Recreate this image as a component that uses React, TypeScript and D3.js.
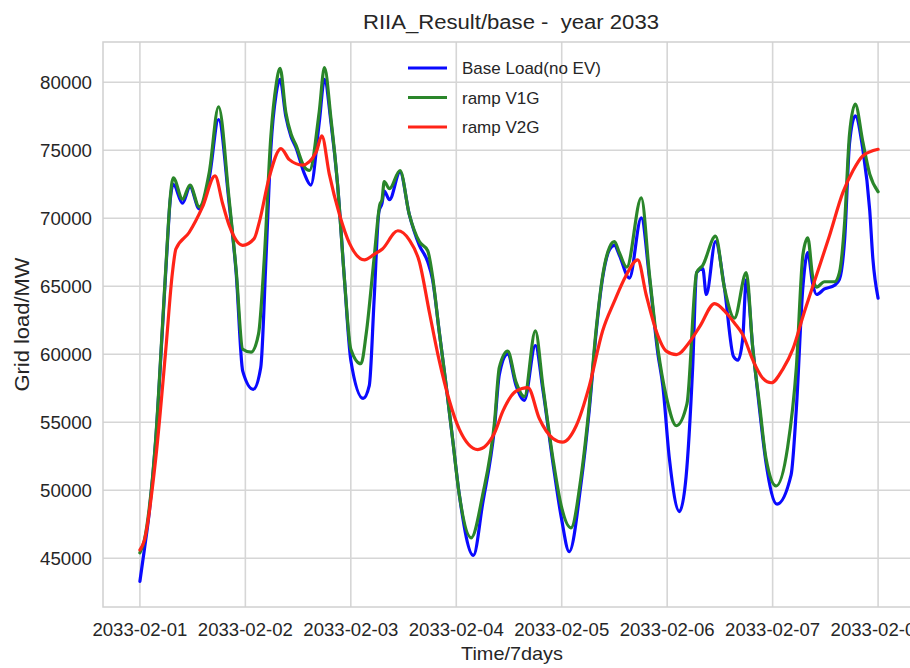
import React from "react";
import * as d3 from "d3";

// hours since 2033-02-01 00:00 and MW readings
const baseHours = [0,1,2.1,3.6,5.1,6.3,6.8,7.6,9.7,11.4,13.5,15.8,17.9,20.3,21.9,23.4,25.8,27.5,28.7,29.8,31.0,31.9,33.2,34.4,35.5,37.4,38.9,40.8,42.0,43.5,45.0,46.5,48.0,50.8,52.2,53.3,54.4,55.1,55.6,56.8,59.2,61.3,63.6,65.5,66.6,68.1,69.7,71.2,72.7,75.9,78.0,80.7,81.8,83.7,85.6,87.5,90.0,91.7,94.0,95.9,97.7,100.4,102.3,103.8,105.3,106.9,108.0,109.1,111.4,114.1,116.0,117.9,119.0,120.5,122.8,124.3,125.8,126.7,128.1,128.9,131.0,133.0,135.1,136.1,137.2,138.0,139.5,141.0,142.5,145.0,148.2,149.4,150.9,152.0,153.1,154.0,155.8,158.1,159.2,160.4,161.5,162.8,164.5,166.1,166.8,168.0];
const baseLoad = [43300,45600,48300,53660,61700,68410,70960,72500,71100,72300,70700,73000,77260,71100,66000,58760,57420,59030,67070,75120,79140,80210,77500,76000,75200,73300,72440,77000,80210,77000,72440,65730,59560,56750,57690,64000,70500,71100,72000,71360,73400,70290,68000,66800,65500,61710,57690,53660,49640,45200,49000,54600,58500,60000,57700,56610,60640,57400,52000,48000,45480,50500,56000,61500,65600,67700,68000,67300,65600,70020,65500,60000,57690,52320,48430,50980,59030,66000,66300,64390,68280,64930,59830,59560,61170,65460,60370,56000,52000,48970,51120,56000,65000,67480,65200,64390,64800,65070,65500,68500,75500,77530,75120,70560,67070,64120];

const v1gHours = [0,1,2.1,3.6,5.1,6.3,6.8,7.6,9.7,11.4,13.5,15.8,17.9,20.3,21.9,23.4,25.3,27.0,28.3,29.8,31.0,31.9,33.2,34.4,35.5,37.4,38.6,40.8,42.0,43.5,45.0,46.5,48.0,50.3,51.5,53.3,54.6,55.1,55.6,56.8,59.2,61.3,63.6,65.5,66.6,68.1,69.7,71.2,72.7,75.4,78.0,80.7,81.8,83.7,85.6,87.5,90.0,91.7,94.0,95.9,98.1,100.4,102.3,103.8,105.3,106.9,108.0,109.1,110.8,114.1,116.0,117.9,119.8,122.1,124.5,126.7,128.1,131.0,133.0,135.3,138.0,139.5,141.0,142.5,144.8,147.4,149.4,150.9,152.0,153.1,154.0,155.8,158.1,159.2,160.4,161.5,162.8,164.5,166.1,168.0];
const rampV1G = [45400,46300,48600,53800,61900,68600,71100,72970,71400,72440,70830,73400,78200,71400,66200,60370,60150,61500,67000,76000,79800,81020,77800,76190,75390,73780,73510,77800,81070,77260,72440,65730,60370,59300,61500,67070,71000,71360,72700,72170,73510,70290,68280,67610,65730,61710,57690,53660,49640,46500,49640,55000,59030,60230,57950,56880,61710,57690,52320,48830,47230,50980,56340,61710,65730,67880,68280,67480,66400,71500,65730,60370,56880,54740,56340,66000,66540,68680,64930,62650,66000,60370,56340,52320,50310,53130,59030,67340,68550,65730,64930,65330,65330,66000,69750,76190,78390,75660,73240,71950];

const v2gHours = [0,1,3.6,5.9,7.4,8.2,11.2,14.25,17.1,18.8,20.3,23.4,26.0,27.2,29.4,32.1,34.0,37.0,40.1,41.4,43.1,45.4,47.7,51.1,53.3,55.2,58.7,61.3,63.6,65.9,68.1,70.4,72.7,76.9,80.7,82.6,85.6,88.3,90.9,94.0,96.2,99.3,102.3,105.3,108.0,110.5,113.3,115.2,117.5,119.8,122.1,125.1,127.4,130.8,133.4,135.3,137.2,139.5,141.8,143.7,146.3,148.6,150.9,153.9,156.9,160.0,162.3,164.5,168.0];
const rampV2G = [45600,46290,52320,60370,66000,67740,68950,70830,73110,71100,69490,68010,68500,69750,72970,75120,74310,73910,74850,76060,73240,70290,68150,66940,67340,67740,69080,68410,66800,63050,59560,56610,54470,52990,54200,55810,57280,57550,55270,53800,53530,54740,57690,61710,63900,65700,66940,64390,61710,60230,59970,60900,62030,63720,63050,62300,61440,59560,58220,57900,58890,60370,62780,65730,68680,71900,73510,74580,75070];

const dayTicks = [0,24,48,72,96,120,144,168];
const dayLabels = ["2033-02-01","2033-02-02","2033-02-03","2033-02-04","2033-02-05","2033-02-06","2033-02-07","2033-02-08"];
const yTicks = [45000,50000,55000,60000,65000,70000,75000,80000];

const seriesNames = ["Base Load(no EV)","ramp V1G","ramp V2G"];
const seriesColors = ["#0a0aff","#2a862a","#ff2418"];

const FONT = "'Liberation Sans', Arial, sans-serif";
const TXT = "#262626";

export default function App() {
  const W = 910, H = 668;
  const left = 103, right = 915, top = 42, bottom = 607;
  const x = d3.scaleLinear().domain([-8.4, 176.4]).range([left, right]);
  const y = d3.scaleLinear().domain([41410, 82960]).range([bottom, top]);

  const mk = (hs: number[], vs: number[]) => hs.map((h, i) => [h, vs[i]] as [number, number]);
  const lineSmooth = d3.line<[number, number]>().x(d => x(d[0])).y(d => y(d[1])).curve(d3.curveMonotoneX);

  const paths = [
    lineSmooth(mk(baseHours, baseLoad)),
    lineSmooth(mk(v1gHours, rampV1G)),
    lineSmooth(mk(v2gHours, rampV2G)),
  ];

  return (
    <svg width={W} height={H} style={{ position: "absolute", left: 0, top: 0, background: "#fff" }} fontFamily={FONT}>
      <rect x={0} y={0} width={W} height={H} fill="#fff" />
      <defs>
        <clipPath id="plotclip">
          <rect x={left} y={top} width={right - left} height={bottom - top} />
        </clipPath>
      </defs>
      {/* grid */}
      {yTicks.map(t => (
        <line key={"gy" + t} x1={left} x2={right} y1={y(t)} y2={y(t)} stroke="#d6d6d6" strokeWidth={1.6} />
      ))}
      {dayTicks.map(t => (
        <line key={"gx" + t} x1={x(t)} x2={x(t)} y1={top} y2={bottom} stroke="#d6d6d6" strokeWidth={1.6} />
      ))}
      <rect x={left} y={top} width={right - left} height={bottom - top} fill="none" stroke="#d0d0d0" strokeWidth={1.5} />
      {/* lines */}
      <g clipPath="url(#plotclip)">
        {paths.map((p, i) => (
          <path key={i} d={p || ""} fill="none" stroke={seriesColors[i]} strokeWidth={3.2} strokeLinejoin="round" strokeLinecap="round" />
        ))}
      </g>
      {/* y tick labels */}
      {yTicks.map(t => (
        <text key={"ty" + t} x={92} y={y(t) + 6.5} textAnchor="end" fontSize={18} fill={TXT} textLength={52} lengthAdjust="spacingAndGlyphs">{t}</text>
      ))}
      {/* x tick labels */}
      {dayTicks.map((t, i) => (
        <text key={"tx" + t} x={x(t)} y={636} textAnchor="middle" fontSize={18} fill={TXT} textLength={95} lengthAdjust="spacingAndGlyphs">{dayLabels[i]}</text>
      ))}
      {/* title */}
      <text x={511} y={29} textAnchor="middle" fontSize={19.5} fill={TXT} textLength={296} lengthAdjust="spacingAndGlyphs" style={{ whiteSpace: "pre" }}>{"RIIA_Result/base -  year 2033"}</text>
      {/* axis labels */}
      <text x={512} y={660} textAnchor="middle" fontSize={19} fill={TXT} textLength={102} lengthAdjust="spacingAndGlyphs">Time/7days</text>
      <text transform={`translate(29,${(top + bottom) / 2}) rotate(-90)`} textAnchor="middle" fontSize={19.5} fill={TXT} textLength={134} lengthAdjust="spacingAndGlyphs">Grid load/MW</text>
      {/* legend */}
      {seriesNames.map((n, i) => (
        <g key={n} transform={`translate(0,${68 + i * 29.5})`}>
          <line x1={408} x2={447} y1={0} y2={0} stroke={seriesColors[i]} strokeWidth={3} />
          <text x={462} y={6} fontSize={17} fill={TXT}>{n}</text>
        </g>
      ))}
    </svg>
  );
}
